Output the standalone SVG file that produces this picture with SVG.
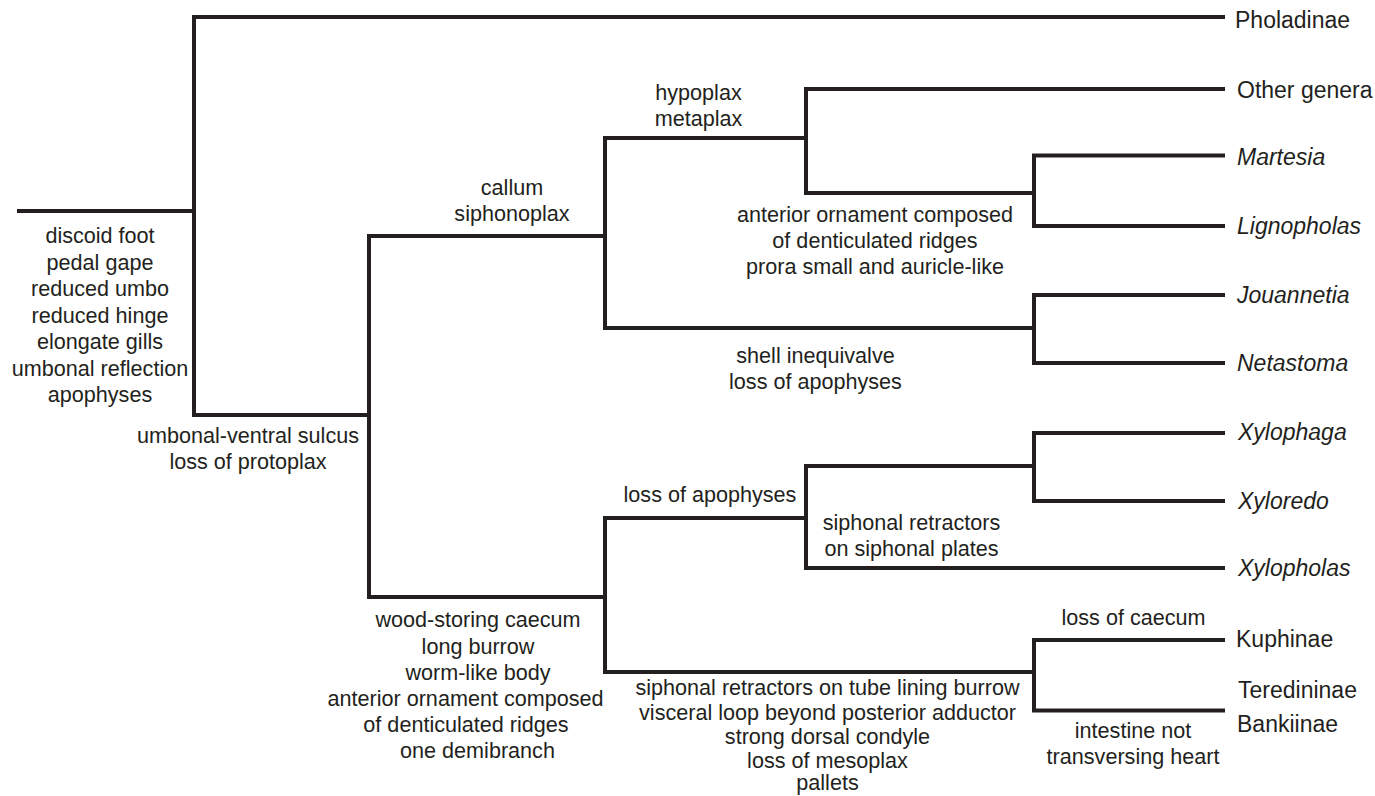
<svg xmlns="http://www.w3.org/2000/svg" width="1375" height="796" viewBox="0 0 1375 796">
<style>
.br{fill:none;stroke:#231f20;stroke-width:4;stroke-linejoin:miter;stroke-linecap:butt}
.c{font-family:"Liberation Sans",Arial,sans-serif;font-size:21.6px;fill:#231f20;text-anchor:middle}
.t{font-family:"Liberation Sans",Arial,sans-serif;font-size:23px;fill:#231f20}
.i{font-style:italic}
</style>
<rect width="1375" height="796" fill="#ffffff"/>
<g id="connectors">
<path class="br" d="M17,211 H194"/>
<path class="br" d="M1225,17 H194 V415 H369"/>
<path class="br" d="M605,236 H369 V597 H605"/>
<path class="br" d="M806,138 H605 V328 H1034"/>
<path class="br" d="M1225,89 H806 V193 H1034"/>
<path class="br" d="M1225,155.5 H1034 V226 H1225"/>
<path class="br" d="M1225,295 H1034 V363 H1225"/>
<path class="br" d="M806,518 H605 V672 H1034"/>
<path class="br" d="M1034,466 H806 V568 H1225"/>
<path class="br" d="M1225,433 H1034 V501 H1225"/>
<path class="br" d="M1225,640 H1034 V710.5 H1225"/>
</g>
<g id="root-characters">
<text class="c" x="100" y="243">discoid foot</text>
<text class="c" x="100" y="269.5">pedal gape</text>
<text class="c" x="100" y="296">reduced umbo</text>
<text class="c" x="100" y="322.5">reduced hinge</text>
<text class="c" x="100" y="349">elongate gills</text>
<text class="c" x="100" y="375.5">umbonal reflection</text>
<text class="c" x="100" y="402">apophyses</text>
</g>
<g id="node-sulcus">
<text class="c" x="248" y="443">umbonal-ventral sulcus</text>
<text class="c" x="248" y="469">loss of protoplax</text>
</g>
<g id="node-callum">
<text class="c" x="512" y="195">callum</text>
<text class="c" x="512" y="221">siphonoplax</text>
</g>
<g id="node-hypoplax">
<text class="c" x="698.5" y="100">hypoplax</text>
<text class="c" x="698.5" y="126">metaplax</text>
</g>
<g id="node-ornament">
<text class="c" x="875" y="222">anterior ornament composed</text>
<text class="c" x="875" y="248">of denticulated ridges</text>
<text class="c" x="875" y="274">prora small and auricle-like</text>
</g>
<g id="node-inequivalve">
<text class="c" x="815.5" y="362.5">shell inequivalve</text>
<text class="c" x="815.5" y="388.5">loss of apophyses</text>
</g>
<g id="node-teredinidae">
<text class="c" x="478" y="627">wood-storing caecum</text>
<text class="c" x="478" y="653.5">long burrow</text>
<text class="c" x="478" y="680">worm-like body</text>
<text class="c" x="465.5" y="706">anterior ornament composed</text>
<text class="c" x="466" y="732">of denticulated ridges</text>
<text class="c" x="477.5" y="758">one demibranch</text>
</g>
<g id="node-xylophagid">
<text class="c" x="710" y="502">loss of apophyses</text>
</g>
<g id="node-siphonal-plates">
<text class="c" x="911.5" y="530">siphonal retractors</text>
<text class="c" x="911.5" y="556">on siphonal plates</text>
</g>
<g id="node-pallets">
<text class="c" x="827.5" y="695">siphonal retractors on tube lining burrow</text>
<text class="c" x="827.5" y="719.5">visceral loop beyond posterior adductor</text>
<text class="c" x="827.5" y="743.5">strong dorsal condyle</text>
<text class="c" x="827.5" y="767.5">loss of mesoplax</text>
<text class="c" x="827.5" y="790">pallets</text>
</g>
<g id="node-caecum">
<text class="c" x="1133.5" y="625">loss of caecum</text>
</g>
<g id="node-intestine">
<text class="c" x="1133" y="738">intestine not</text>
<text class="c" x="1133" y="764">transversing heart</text>
</g>
<g id="taxa">
<text class="t" x="1235" y="28">Pholadinae</text>
<text class="t" x="1237" y="97.5">Other genera</text>
<text class="t i" x="1237" y="165">Martesia</text>
<text class="t i" x="1237" y="233.5">Lignopholas</text>
<text class="t i" x="1237" y="303">Jouannetia</text>
<text class="t i" x="1237" y="371">Netastoma</text>
<text class="t i" x="1238" y="440">Xylophaga</text>
<text class="t i" x="1238" y="509">Xyloredo</text>
<text class="t i" x="1238" y="576">Xylopholas</text>
<text class="t" x="1236" y="647">Kuphinae</text>
<text class="t" x="1238" y="698">Teredininae</text>
<text class="t" x="1237" y="732">Bankiinae</text>
</g>
</svg>
